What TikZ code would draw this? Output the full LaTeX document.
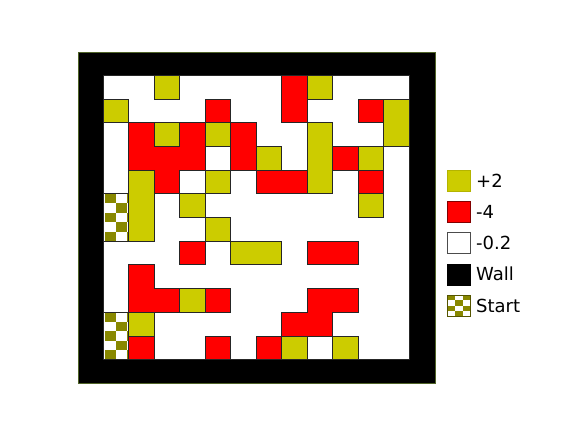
\documentclass[tikz,border=0pt]{standalone}
\usepackage{fontspec}
\setmainfont{DejaVu Sans}
\definecolor{cyel}{RGB}{204,204,0}
\definecolor{cyeledge}{RGB}{180,180,0}
\definecolor{cred}{RGB}{255,0,0}
\definecolor{crededge}{RGB}{130,0,0}
\definecolor{colive}{RGB}{136,136,0}
\definecolor{coliveedge}{RGB}{85,85,0}
\definecolor{cframe}{RGB}{80,100,40}
\tikzset{
  celledge/.style={line width=1pt, draw=black!85, line cap=rect},
  legbox/.style={minimum width=23.4pt, minimum height=21pt, inner sep=0pt, outer sep=0pt, line width=0.8pt},
  legtxt/.style={anchor=west, inner sep=0pt, text height=13.1pt, text depth=0pt, font=\fontsize{18}{20}\selectfont}
}
\def\G{{{0,0,1,0,0,0,0,2,1,0,0,0},{1,0,0,0,2,0,0,2,0,0,2,1},{0,2,1,2,1,2,0,0,1,0,0,1},{0,2,2,2,0,2,1,0,1,2,1,0},{0,1,2,0,1,0,2,2,1,0,2,0},{3,1,0,1,0,0,0,0,0,0,1,0},{3,1,0,0,1,0,0,0,0,0,0,0},{0,0,0,2,0,1,1,0,2,2,0,0},{0,2,0,0,0,0,0,0,0,0,0,0},{0,2,2,1,2,0,0,0,2,2,0,0},{3,1,0,0,0,0,0,2,2,0,0,0},{3,2,0,0,2,0,2,1,0,1,0,0}}}
\begin{document}
\begin{tikzpicture}[x=1pt,y=-1pt]
\useasboundingbox (0,0) rectangle (582,432);
\fill[white] (0,0) rectangle (582,432);
% wall
\fill[black] (78.5,52) rectangle (435,383.5);
\draw[cframe, line width=0.7pt] (78.5,52) rectangle (435,383.5);
\fill[white] (103.3,75.3) rectangle (409.3,359.7);
% cells
\foreach \r in {0,...,11}{
  \foreach \c in {0,...,11}{
    \pgfmathtruncatemacro\t{\G[\r][\c]}
    \pgfmathsetmacro\xa{103.3+25.5*\c}
    \pgfmathsetmacro\ya{75.3+23.7*\r}
    \ifcase\t
    \or \fill[cyel] (\xa,\ya) rectangle ++(25.5,23.7);
    \or \fill[cred] (\xa,\ya) rectangle ++(25.5,23.7);
    \fi
  }
}
% start checker regions
\foreach \ys in {193.8,312.3}{
  \begin{scope}
    \clip (103.3,\ys) rectangle (128.8,\ys+47.4);
    \fill[white] (103.3,\ys) rectangle (128.8,\ys+47.4);
    \foreach \i in {0,1,2}{
      \foreach \j in {0,...,4}{
        \pgfmathtruncatemacro\pty{mod(\i+\j,2)}
        \ifnum\pty=0
          \fill[colive] (104.8+11*\i,\ys+9.48*\j) rectangle ++(11,9.48);
        \fi
      }
    }
  \end{scope}
}
% vertical edges
\foreach \r in {0,...,11}{
  \foreach \c in {0,...,10}{
    \pgfmathtruncatemacro\ta{\G[\r][\c]}
    \pgfmathtruncatemacro\tb{\G[\r][\c+1]}
    \ifnum\ta=\tb\else
      \pgfmathsetmacro\xa{103.3+25.5*(\c+1)}
      \pgfmathsetmacro\ya{75.3+23.7*\r}
      \draw[celledge] (\xa,\ya) -- ++(0,23.7);
    \fi
  }
}
% horizontal edges
\foreach \r in {0,...,10}{
  \foreach \c in {0,...,11}{
    \pgfmathtruncatemacro\ta{\G[\r][\c]}
    \pgfmathtruncatemacro\tb{\G[\r+1][\c]}
    \ifnum\ta=\tb\else
      \pgfmathsetmacro\xa{103.3+25.5*\c}
      \pgfmathsetmacro\ya{75.3+23.7*(\r+1)}
      \draw[celledge] (\xa,\ya) -- ++(25.5,0);
    \fi
  }
}
\draw[black!85, line width=0.8pt] (103.3,75.3) rectangle (409.3,359.7);
% legend
\node[legbox, fill=cyel, draw=cyeledge] (ly) at (459,180.5) {};
\node[legbox, fill=cred, draw=crededge] (lr) at (459,211.8) {};
\node[legbox, fill=white, draw=black!70] (lw) at (459,243.1) {};
\node[legbox, fill=black, draw=black] (lk) at (459,274.4) {};
\node[legbox, fill=white] (ls) at (459,305.7) {};
\foreach \i in {0,1,2}{
  \foreach \j in {0,...,3}{
    \pgfmathtruncatemacro\pty{mod(\i+\j,2)}
    \ifnum\pty=0
      \fill[colive] ([xshift={7.8pt*\i}, yshift={-5.25pt*\j}]ls.north west) rectangle ++(7.8,5.25);
    \fi
  }
}
\draw[coliveedge, line width=0.8pt] (ls.north west) rectangle (ls.south east);
\node[legtxt] (ty) at (476,180.5) {+2};
\node[legtxt] (tr) at (476,211.8) {-4};
\node[legtxt] (tw) at (476,243.1) {-0.2};
\node[legtxt] (tk) at (476,274.4) {Wall};
\node[legtxt] (ts) at (476,305.7) {Start};
\end{tikzpicture}
\end{document}
